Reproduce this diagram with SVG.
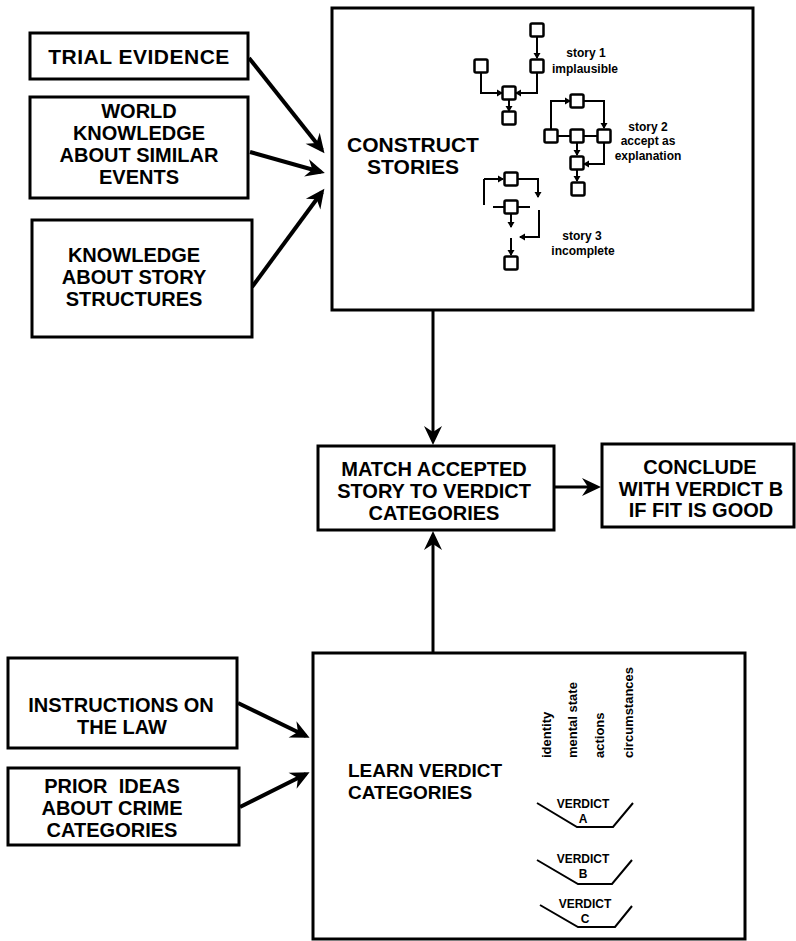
<svg xmlns="http://www.w3.org/2000/svg" width="796" height="941" viewBox="0 0 796 941">
<style>
.box{fill:#fff;stroke:#000;stroke-width:3}
.t{font-family:"Liberation Sans",Arial,sans-serif;font-weight:bold;font-size:20px;text-anchor:middle;fill:#000}
.s{font-family:"Liberation Sans",Arial,sans-serif;font-weight:bold;font-size:12px;text-anchor:middle;fill:#000}
.v{font-family:"Liberation Sans",Arial,sans-serif;font-weight:bold;font-size:13px;text-anchor:start;fill:#000}
.big{fill:none;stroke:#000;stroke-width:4;marker-end:url(#ah)}
.main{fill:none;stroke:#000;stroke-width:3;marker-end:url(#ah)}
.sq{fill:#fff;stroke:#000;stroke-width:2.5}
.sl{fill:none;stroke:#000;stroke-width:2}
.sla{fill:none;stroke:#000;stroke-width:2;marker-end:url(#sa)}
.vs{fill:none;stroke:#000;stroke-width:2}
</style>
<defs>
<marker id="ah" markerUnits="userSpaceOnUse" markerWidth="24" markerHeight="20" viewBox="-20 -10 22 20" refX="-4" refY="0" orient="auto" overflow="visible">
<path d="M0,0 L-19,-9 L-13,0 L-19,9 z" fill="#000"/>
</marker>
<marker id="sa" markerUnits="userSpaceOnUse" markerWidth="8" markerHeight="8" viewBox="-7 -4 8 8" refX="-1" refY="0" orient="auto" overflow="visible">
<path d="M0,0 L-6,-3.5 L-6,3.5 z" fill="#000"/>
</marker>
</defs>
<rect width="796" height="941" fill="#fff"/>

<g id="connectors">
<path class="big" d="M249,58 L322,150"/>
<path class="big" d="M250,152 L321,172"/>
<path class="big" d="M252,287 L322,192"/>
<path class="main" d="M433,310 L433,441"/>
<path class="main" d="M554,487 L597,487"/>
<path class="main" d="M433,653 L433,535"/>
<path class="big" d="M238,703 L306,736"/>
<path class="big" d="M240,807 L306,774"/>
</g>

<g id="trial-evidence">
<rect class="box" x="30" y="33" width="218" height="46"/>
<text class="t" x="139" y="64" style="font-size:21px;letter-spacing:0.5px">TRIAL EVIDENCE</text>
</g>

<g id="world-knowledge">
<rect class="box" x="30" y="97" width="218" height="101"/>
<text class="t" x="139" y="118">WORLD</text>
<text class="t" x="139" y="140">KNOWLEDGE</text>
<text class="t" x="139" y="162">ABOUT SIMILAR</text>
<text class="t" x="139" y="184">EVENTS</text>
</g>

<g id="story-structures">
<rect class="box" x="32" y="220" width="220" height="117"/>
<text class="t" x="134" y="262">KNOWLEDGE</text>
<text class="t" x="134" y="284">ABOUT STORY</text>
<text class="t" x="134" y="306">STRUCTURES</text>
</g>

<g id="construct-stories">
<rect class="box" x="332" y="8" width="421" height="302"/>
<text class="t" x="413" y="152" style="font-size:21px">CONSTRUCT</text>
<text class="t" x="413" y="174" style="font-size:21px">STORIES</text>

<!-- story 1 -->
<path class="sla" d="M537,37 L537,58"/>
<path class="sla" d="M481,73 L481,93 L502,93"/>
<path class="sla" d="M537,73 L537,93 L516,93"/>
<path class="sla" d="M509,100 L509,111"/>
<rect class="sq" x="530.5" y="23.5" width="13" height="13" rx="1.5"/>
<rect class="sq" x="530.5" y="59.5" width="13" height="13" rx="1.5"/>
<rect class="sq" x="474.5" y="59.5" width="13" height="13" rx="1.5"/>
<rect class="sq" x="502.5" y="86.5" width="13" height="13" rx="1.5"/>
<rect class="sq" x="502.5" y="111.5" width="13" height="13" rx="1.5"/>
<text class="s" x="586" y="57">story 1</text>
<text class="s" x="585" y="73">implausible</text>

<!-- story 2 -->
<path class="sla" d="M551,129 L551,101 L570,101"/>
<path class="sla" d="M583,101 L604,101 L604,128"/>
<path class="sl" d="M557,136 L571,136 M583,136 L597,136"/>
<path class="sla" d="M577,143 L577,155"/>
<path class="sla" d="M604,143 L604,164 L584,164"/>
<path class="sla" d="M577,169 L577,181"/>
<rect class="sq" x="570.5" y="94.5" width="13" height="13" rx="1.5"/>
<rect class="sq" x="544.5" y="129.5" width="13" height="13" rx="1.5"/>
<rect class="sq" x="570.5" y="129.5" width="13" height="13" rx="1.5"/>
<rect class="sq" x="597.5" y="129.5" width="13" height="13" rx="1.5"/>
<rect class="sq" x="570.5" y="156.5" width="13" height="13" rx="1.5"/>
<rect class="sq" x="571.5" y="182.5" width="13" height="13" rx="1.5"/>
<text class="s" x="648" y="131">story 2</text>
<text class="s" x="648" y="145">accept as</text>
<text class="s" x="648" y="160">explanation</text>

<!-- story 3 -->
<path class="sl" d="M484,205 L484,179"/>
<path class="sla" d="M484,179 L503,179"/>
<path class="sla" d="M518,179 L538,179 L538,197"/>
<path class="sl" d="M493,207 L505,207 M518,207 L530,207"/>
<path class="sla" d="M511,214 L511,227"/>
<path class="sla" d="M539,210 L539,237 L520,237"/>
<path class="sla" d="M511,238 L511,255"/>
<rect class="sq" x="504.5" y="172.5" width="13" height="13" rx="1.5"/>
<rect class="sq" x="504.5" y="200.5" width="13" height="13" rx="1.5"/>
<rect class="sq" x="504.5" y="256.5" width="13" height="13" rx="1.5"/>
<text class="s" x="582" y="240">story 3</text>
<text class="s" x="583" y="255">incomplete</text>
</g>

<g id="match">
<rect class="box" x="318" y="446" width="236" height="84"/>
<text class="t" x="434" y="476">MATCH ACCEPTED</text>
<text class="t" x="434" y="498">STORY TO VERDICT</text>
<text class="t" x="434" y="520">CATEGORIES</text>
</g>

<g id="conclude">
<rect class="box" x="602" y="444" width="192" height="83"/>
<text class="t" x="700" y="474">CONCLUDE</text>
<text class="t" x="701" y="496">WITH VERDICT B</text>
<text class="t" x="701" y="517">IF FIT IS GOOD</text>
</g>

<g id="instructions">
<rect class="box" x="8" y="658" width="229" height="90"/>
<text class="t" x="121" y="712">INSTRUCTIONS ON</text>
<text class="t" x="122" y="734">THE LAW</text>
</g>

<g id="prior-ideas">
<rect class="box" x="8" y="768" width="231" height="77"/>
<text class="t" x="112" y="793" xml:space="preserve">PRIOR  IDEAS</text>
<text class="t" x="112" y="815">ABOUT CRIME</text>
<text class="t" x="112" y="837">CATEGORIES</text>
</g>

<g id="learn-verdict">
<rect class="box" x="313" y="653" width="432" height="286"/>
<text class="t" x="348" y="777" style="text-anchor:start;font-size:19px">LEARN VERDICT</text>
<text class="t" x="348" y="799" style="text-anchor:start;font-size:19px">CATEGORIES</text>
<text class="v" transform="translate(551,758) rotate(-90)">identity</text>
<text class="v" transform="translate(577,758) rotate(-90)">mental state</text>
<text class="v" transform="translate(604,758) rotate(-90)">actions</text>
<text class="v" transform="translate(633,758) rotate(-90)">circumstances</text>
<path class="vs" d="M537,803 L577,827 L613,827 L633,803"/>
<text class="s" x="583" y="808">VERDICT</text>
<text class="s" x="583" y="823">A</text>
<path class="vs" d="M537,860 L578,884 L612,884 L632,860"/>
<text class="s" x="583" y="863">VERDICT</text>
<text class="s" x="583" y="878">B</text>
<path class="vs" d="M540,905 L578,927 L615,927 L632,906"/>
<text class="s" x="585" y="908">VERDICT</text>
<text class="s" x="585" y="923">C</text>
</g>
</svg>
